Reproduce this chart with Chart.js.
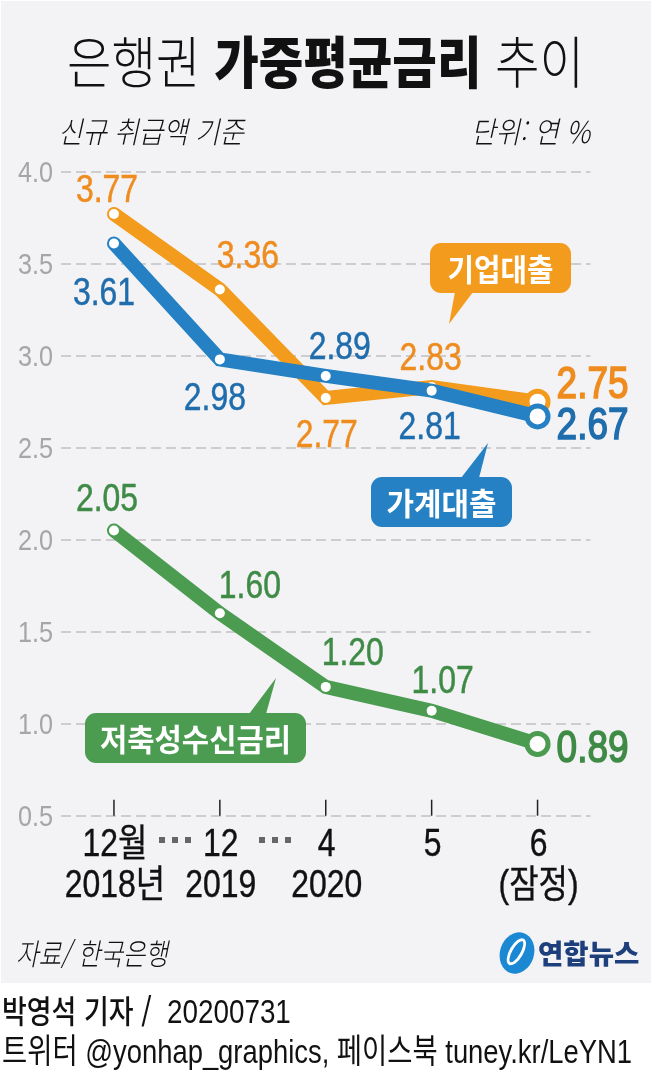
<!DOCTYPE html>
<html lang="ko">
<head>
<meta charset="utf-8">
<title>은행권 가중평균금리 추이</title>
<script src="https://cdn.jsdelivr.net/npm/chart.js@4/dist/chart.umd.min.js"></script>
<style>
  html, body { margin: 0; padding: 0; background: #fff; }
  #page { position: relative; width: 651px; height: 1086px; overflow: hidden; font-family: 'Noto Sans CJK KR', sans-serif; color: #111; }
  #panel { position: absolute; left: 1px; top: 1px; width: 650px; height: 982px; background: #f3f3f6; }
  canvas { position: absolute; left: 0; top: 0; }
  .t { position: absolute; white-space: nowrap; transform-origin: 0 0; line-height: 1; }
  .it { font-style: italic; font-weight: 300; }
  .latin { font-family: 'Liberation Sans', 'Noto Sans CJK KR', sans-serif; }
  #logo { position: absolute; left: 500px; top: 932px; width: 34px; height: 42px; border-radius: 50%; background: #1a88d2; transform: rotate(18deg); overflow: hidden; }
  #logo i { position: absolute; left: 9px; top: 5px; width: 14px; height: 30px; border: 3px solid #fff; border-radius: 50%; box-sizing: border-box; transform: rotate(12deg); }
</style>
</head>
<body>
<div id="page">
  <div id="panel"></div>
  <canvas id="chart" width="651" height="1086"></canvas>

  <div class="t" data-w="517" style="left:67px;top:31px;font-size:56px;font-weight:300">은행권 <b style="font-weight:900">가중평균금리</b> 추이</div>
  <div class="t it" data-w="186" style="left:58px;top:115px;font-size:30px">신규 취급액 기준</div>
  <div class="t it" data-w="119" style="left:471px;top:115px;font-size:30px">단위: 연 %</div>
  <div class="t it" data-w="152" style="left:16px;top:937px;font-size:30px">자료/ 한국은행</div>

  <div id="logo"><i></i></div>
  <div class="t" data-w="101" style="left:538px;top:939px;font-size:27px;font-weight:900;color:#1d3f7c">연합뉴스</div>

  <div class="t" data-w="150" style="left:2px;top:993px;font-size:32px;font-weight:500">박영석 기자 /</div>
  <div class="t latin" data-w="124" style="left:167px;top:995px;font-size:33px">20200731</div>
  <div class="t latin" data-w="630" style="left:2px;top:1034px;font-size:34px">트위터 @yonhap_graphics, 페이스북 tuney.kr/LeYN1</div>
</div>

<script>
// 데이터
const xMonths = ['12월', '12', '4', '5', '6'];
const xYears = ['2018년', '2019', '2020', '', '(잠정)'];
const yTicks = [0.5, 1.0, 1.5, 2.0, 2.5, 3.0, 3.5, 4.0];
const corporateLoans = [3.77, 3.36, 2.77, 2.83, 2.75];
const householdLoans = [3.61, 2.98, 2.89, 2.81, 2.67];
const savingsDeposits = [2.05, 1.60, 1.20, 1.07, 0.89];

// 색상
const ORANGE = '#f39b1c', ORANGE_TXT = '#ee8c1f';
const BLUE = '#2581c4', BLUE_TXT = '#1f6dac';
const GREEN = '#4b9b51', GREEN_TXT = '#3f8b46';

const LATIN = "'Liberation Sans', 'Noto Sans CJK KR', sans-serif";
const SQUEEZE = 0.84;

// 값 라벨 위치 (점 기준 dx, 기준선 dy) - datasets 순서와 같음
const labelOffsets = [
  { color: BLUE_TXT, dx: [-10, -5, 14, -2, 55], dy: [62, 51, -17, 48, 23] },
  { color: ORANGE_TXT, dx: [-7, 28, 1, -1, 55], dy: [-12, -21, 49, -17, -4] },
  { color: GREEN_TXT, dx: [-7, 30, 27, 11, 55], dy: [-20, -15, -22, -18, 18] }
];

// 말풍선
const callouts = [
  { text: '기업대출', color: ORANGE, x: 430, y: 243, w: 141, h: 50, textW: 106, tail: [455, 449, 324, 473] },
  { text: '가계대출', color: BLUE, x: 371, y: 477, w: 141, h: 50, textW: 110, tail: [461, 488, 443, 479] },
  { text: '저축성수신금리', color: GREEN, x: 85, y: 713, w: 221, h: 50, textW: 191, tail: [249, 276, 678, 266] }
];

// HTML 텍스트를 원본 폭에 맞춤
document.querySelectorAll('.t[data-w]').forEach(el => {
  const scale = Number(el.dataset.w) / el.offsetWidth;
  el.style.transform = 'scaleX(' + scale + ')';
});

function squeezedText(ctx, text, x, y, font, color, align, stroke) {
  ctx.save();
  ctx.translate(x, y);
  ctx.scale(SQUEEZE, 1);
  ctx.font = font;
  ctx.fillStyle = color;
  ctx.textAlign = align;
  ctx.textBaseline = 'alphabetic';
  ctx.fillText(text, 0, 0);
  if (stroke) {
    ctx.strokeStyle = color;
    ctx.lineWidth = stroke;
    ctx.strokeText(text, 0, 0);
  }
  ctx.restore();
}

function lineDataset(label, data, color) {
  const last = data.length - 1;
  return {
    label,
    data,
    borderColor: color,
    borderWidth: 14,
    borderCapStyle: 'round',
    borderJoinStyle: 'miter',
    tension: 0,
    pointBackgroundColor: '#fff',
    pointBorderColor: ctx => ctx.dataIndex === last ? color : '#fff',
    pointBorderWidth: ctx => ctx.dataIndex === last ? 5 : 0,
    pointRadius: ctx => ctx.dataIndex === last ? 10.5 : 5
  };
}

// 축 라벨, 값 라벨, 눈금, 말풍선
const decorPlugin = {
  id: 'decor',
  afterDatasetsDraw(chart) {
    const ctx = chart.ctx;
    const xs = chart.scales.x;
    const ys = chart.scales.y;
    const base = ys.getPixelForValue(0.5);

    // y축 라벨
    yTicks.forEach(v => {
      squeezedText(ctx, v.toFixed(1), xs.left - 8, ys.getPixelForValue(v) + 10, '400 30px ' + LATIN, '#a6a6a8', 'right');
    });

    // x축 눈금 (축 위쪽으로)과 라벨
    ctx.save();
    ctx.strokeStyle = '#222';
    ctx.lineWidth = 1.5;
    xMonths.forEach((m, i) => {
      const px = xs.getPixelForTick(i);
      ctx.beginPath();
      ctx.moveTo(px, base - 16);
      ctx.lineTo(px, base);
      ctx.stroke();
      squeezedText(ctx, m, px + 1, base + 40, '400 38px ' + LATIN, '#111', 'center', 0.4);
      squeezedText(ctx, xYears[i], px + 1, base + 81, '400 38px ' + LATIN, '#111', 'center', 0.4);
    });

    // 생략 표시
    ctx.fillStyle = '#666';
    [175, 275].forEach(cx => {
      [-13, 0, 13].forEach(d => ctx.fillRect(cx + d - 3, 837, 6, 6));
    });

    // 말풍선
    callouts.forEach(c => {
      ctx.fillStyle = c.color;
      ctx.beginPath();
      ctx.roundRect(c.x, c.y, c.w, c.h, 11);
      ctx.fill();
      const below = c.tail[2] > c.y;
      const edge = below ? c.y + c.h - 1 : c.y + 1;
      ctx.beginPath();
      ctx.moveTo(c.tail[0], edge);
      ctx.lineTo(c.tail[1], c.tail[2]);
      ctx.lineTo(c.tail[3], edge);
      ctx.closePath();
      ctx.fill();

      ctx.save();
      ctx.font = "700 31px 'Noto Sans CJK KR', sans-serif";
      const sx = c.textW / ctx.measureText(c.text).width;
      ctx.translate(c.x + c.w / 2, c.y + c.h / 2 + 1);
      ctx.scale(sx, 1);
      ctx.fillStyle = '#fff';
      ctx.textAlign = 'center';
      ctx.textBaseline = 'middle';
      ctx.fillText(c.text, 0, 0);
      ctx.restore();
    });
    ctx.restore();

    // 값 라벨
    chart.data.datasets.forEach((ds, d) => {
      const o = labelOffsets[d];
      chart.getDatasetMeta(d).data.forEach((pt, i) => {
        const isLast = i === ds.data.length - 1;
        const font = (isLast ? '400 44px ' : '400 38px ') + LATIN;
        squeezedText(ctx, ds.data[i].toFixed(2), pt.x + o.dx[i], pt.y + o.dy[i], font, o.color, 'center', isLast ? 1.6 : 0.5);
      });
    });
  }
};

new Chart(document.getElementById('chart').getContext('2d'), {
  type: 'line',
  data: {
    labels: xMonths,
    datasets: [
      lineDataset('가계대출', householdLoans, BLUE),
      lineDataset('기업대출', corporateLoans, ORANGE),
      lineDataset('저축성수신금리', savingsDeposits, GREEN)
    ]
  },
  options: {
    responsive: false,
    animation: false,
    layout: { padding: { left: 0, right: 60.5, top: 171.7, bottom: 0 } },
    plugins: { legend: { display: false }, tooltip: { enabled: false } },
    scales: {
      x: {
        type: 'category',
        offset: true,
        border: { display: false },
        grid: { display: false, drawTicks: false },
        ticks: { display: false },
        afterFit: s => { s.height = 1086 - 815.7; }
      },
      y: {
        min: 0.5,
        max: 4,
        border: { display: false, dash: [10, 5] },
        grid: { color: '#cdcdcf', lineWidth: 2, drawTicks: false },
        ticks: { display: false, stepSize: 0.5 },
        afterFit: s => { s.width = 61; }
      }
    }
  },
  plugins: [decorPlugin]
});
</script>
</body>
</html>
